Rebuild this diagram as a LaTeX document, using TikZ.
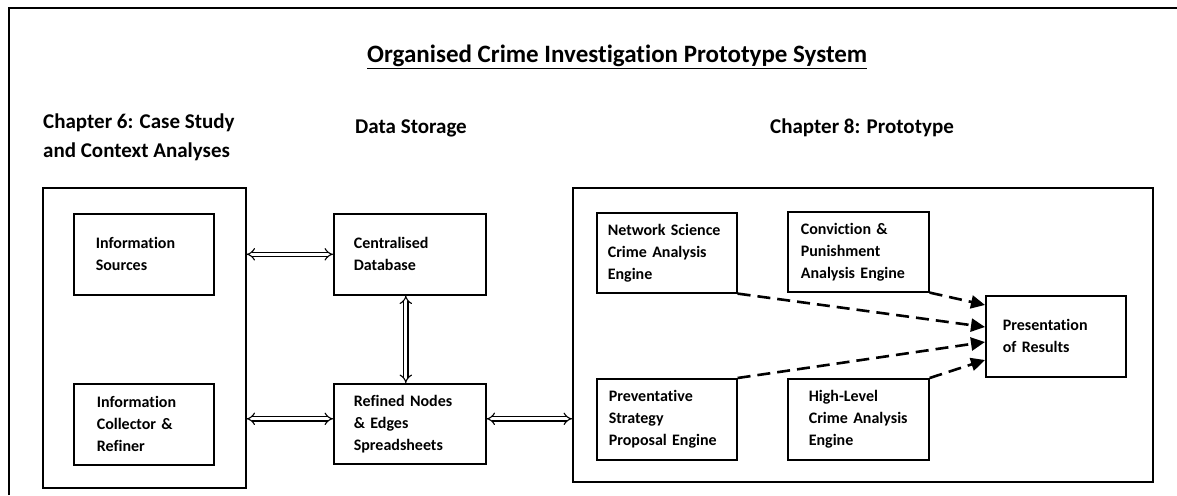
\documentclass[tikz,border=0pt]{standalone}
\usepackage{fontspec}
\setmainfont{Carlito}[Ligatures=NoCommon]
\usetikzlibrary{arrows.meta,calc}

\tikzset{
  box/.style={draw, line width=1.6pt, anchor=north west, align=left,
    font=\bfseries\fontsize{16}{22}\selectfont, inner ysep=0pt},
  group/.style={draw, line width=1.6pt, anchor=north west, inner sep=0pt},
  heading/.style={font=\bfseries\fontsize{21}{29}\selectfont, align=left,
    anchor=base west, inner sep=0pt},
  link/.style={double, double distance=3.2pt, line width=1.1pt, {Implies}-{Implies}},
  feed/.style={line width=2.6pt, dash pattern=on 13pt off 7pt,
    -{Triangle[length=14pt,width=13pt]}}
}

\begin{document}
\begin{tikzpicture}[x=1pt, y=-1pt]
  \useasboundingbox (0,0) rectangle (1177,495);

  % Marco exterior (cortado a la derecha y abajo)
  \draw[line width=1.6pt] (9,495) -- (9,8) -- (1177,8);

  % Titulo y encabezados
  \node[font=\bfseries\fontsize{25}{30}\selectfont, anchor=base west, inner sep=0pt] (title) at (367,63)
    {\underline{Organised Crime Investigation Prototype System}};
  \node[heading] (h6) at (43,157) {Chapter 6: Case Study\\and Context Analyses};
  \node[heading] (hds) at (355,133) {Data Storage};
  \node[heading] (h8) at (770,133) {Chapter 8: Prototype};

  % Grupos
  \node[group, minimum width=203, minimum height=300] (g6) at (42,187) {};
  \node[group, minimum width=580, minimum height=294] (g8) at (572,187) {};

  % Capitulo 6
  \node[box, minimum height=81, text width=96, inner xsep=22] (src) at (73,213) {Information\\Sources};
  \node[box, minimum height=81, text width=94, inner xsep=23] (coll) at (73,383) {Information\\Collector \&\\Refiner};

  % Almacenamiento
  \node[box, minimum height=81, text width=112, inner xsep=20] (db) at (333,213) {Centralised\\Database};
  \node[box, minimum height=80, text width=112, inner xsep=20] (ref) at (333,383) {Refined Nodes\\\& Edges\\Spreadsheets};

  % Capitulo 8
  \node[box, minimum height=80, text width=118, inner xsep=11] (net) at (596,212) {Network Science\\Crime Analysis\\Engine};
  \node[box, minimum height=80, text width=115, inner xsep=13] (conv) at (787,211) {Conviction \&\\Punishment\\Analysis Engine};
  \node[box, minimum height=81, text width=116, inner xsep=12] (prev) at (596,378) {Preventative\\Strategy\\Proposal Engine};
  \node[box, minimum height=81, text width=99, inner xsep=21] (high) at (787,378) {High-Level\\Crime Analysis\\Engine};
  \node[box, minimum height=81, text width=106, inner xsep=17] (pres) at (985,295) {Presentation\\of Results};

  % Flechas dobles
  \draw[link] (db.west -| g6.east) -- (db.west);
  \draw[link] ([xshift=-4pt]db.south) -- ([xshift=-4pt]ref.north);
  \draw[link] ([yshift=5pt]ref.west -| g6.east) -- ([yshift=5pt]ref.west);
  \draw[link] ([yshift=5pt]ref.east) -- ([yshift=5pt]ref.east -| g8.west);

  % Flechas hacia la presentacion
  \coordinate (in1) at ($(pres.north west)+(0,10)$);
  \coordinate (in2) at ($(pres.north west)+(0,32)$);
  \coordinate (in3) at ($(pres.north west)+(0,47)$);
  \coordinate (in4) at ($(pres.north west)+(0,65)$);
  \draw[feed] (conv.south east) -- (in1);
  \draw[feed] (net.south east) -- (in2);
  \draw[feed] (prev.north east) -- (in3);
  \draw[feed] (high.north east) -- (in4);
\end{tikzpicture}
\end{document}
